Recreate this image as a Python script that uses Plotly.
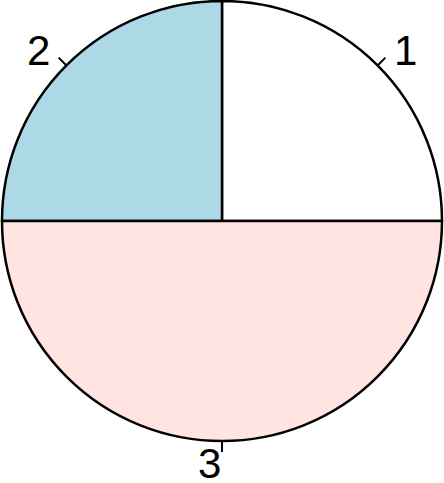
import math
import plotly.graph_objects as go

labels = ["1", "2", "3"]
values = [1, 1, 2]
colors = ["#FFFFFF", "#ADD8E6", "#FFE4E1"]

W, H = 444, 483
cx, cy, R = 222, 221, 220  # pixel centre and radius

fig = go.Figure()
fig.add_trace(go.Pie(
    labels=labels, values=values, sort=False,
    direction="counterclockwise", rotation=0,
    marker=dict(colors=colors, line=dict(color="black", width=2.5)),
    textinfo="none", hoverinfo="label+value", showlegend=False,
    domain=dict(x=[(cx - R) / W, (cx + R) / W], y=[(H - cy - R) / H, (H - cy + R) / H]),
))

# unit-circle coordinate system for ticks and labels
fig.update_xaxes(range=[-cx / R, (W - cx) / R], visible=False, fixedrange=True)
fig.update_yaxes(range=[(cy - H) / R, cy / R], visible=False, fixedrange=True)

total = sum(values)
cum = 0
for lab, v in zip(labels, values):
    mid = 2 * math.pi * (cum + v / 2) / total
    cum += v
    c, s = math.cos(mid), math.sin(mid)
    fig.add_shape(type="line", x0=c, y0=s, x1=1.05 * c, y1=1.05 * s,
                  line=dict(color="black", width=2), xref="x", yref="y")
    fig.add_annotation(x=1.1 * c, y=1.1 * s, text=lab, showarrow=False,
                       xanchor="left" if c > 1e-9 else "right", yanchor="middle",
                       height=36, valign="middle",
                       font=dict(size=42, color="black", family="Liberation Sans, Arial, sans-serif"),
                       borderpad=0)

fig.update_layout(width=W, height=H, margin=dict(l=0, r=0, t=0, b=0),
                  paper_bgcolor="white", plot_bgcolor="rgba(0,0,0,0)")
fig.write_html("out.html", config={"displayModeBar": False},
               post_script="document.body.style.margin='0';")
